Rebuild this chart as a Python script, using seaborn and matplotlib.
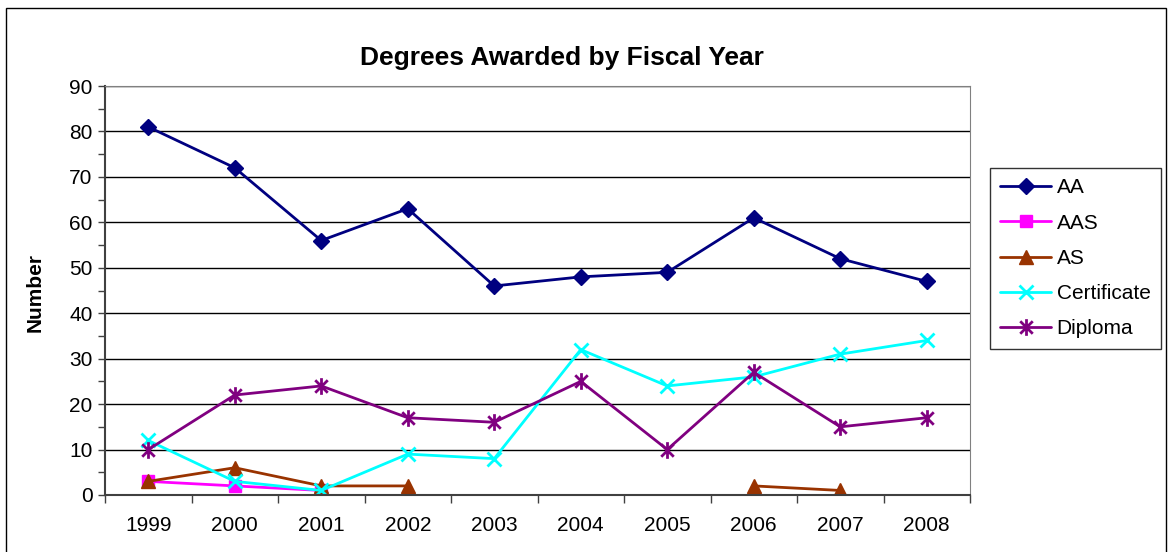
import numpy as np
import matplotlib
matplotlib.use("Agg")
import matplotlib.pyplot as plt
from matplotlib.path import Path
from matplotlib.lines import Line2D
from matplotlib.patches import Rectangle
import seaborn as sns

# Data
years = ["1999", "2000", "2001", "2002", "2003", "2004", "2005", "2006", "2007", "2008"]
aa = [81, 72, 56, 63, 46, 48, 49, 61, 52, 47]
aas = [3, 2, 1, np.nan, np.nan, np.nan, np.nan, np.nan, np.nan, np.nan]
as_ = [3, 6, 2, 2, np.nan, np.nan, np.nan, 2, 1, np.nan]
certificate = [12, 3, 1, 9, 8, 32, 24, 26, 31, 34]
diploma = [10, 22, 24, 17, 16, 25, 10, 27, 15, 17]

sns.set_style("white")
plt.rcParams["font.family"] = ["Liberation Sans", "DejaVu Sans"]
plt.rcParams["text.color"] = "black"
plt.rcParams["xtick.color"] = "black"
plt.rcParams["ytick.color"] = "black"
plt.rcParams["axes.labelcolor"] = "black"

# Excel-style star: vertical bar plus an X
star = Path([(0, -1), (0, 1), (-0.75, -0.75), (0.75, 0.75), (-0.75, 0.75), (0.75, -0.75)],
            [Path.MOVETO, Path.LINETO, Path.MOVETO, Path.LINETO, Path.MOVETO, Path.LINETO])

series = [
    ("AA", aa, "#000080", "D", 8),
    ("AAS", aas, "#FF00FF", "s", 9),
    ("AS", as_, "#993300", "^", 10),
    ("Certificate", certificate, "#00FFFF", "x", 10),
    ("Diploma", diploma, "#800080", star, 12),
]

fig = plt.figure(figsize=(11.73, 5.52), dpi=100)
ax = fig.add_axes([105 / 1173, 57 / 552, 865 / 1173, 409 / 552])

x_all = np.arange(len(years))
handles = []
for name, vals, col, mk, ms in series:
    vals = np.array(vals, dtype=float)
    mew = 2 if (mk == "x" or mk is star) else 1
    ok = ~np.isnan(vals)
    # split into contiguous runs so gaps stay gaps
    runs = np.split(x_all[ok], np.where(np.diff(x_all[ok]) != 1)[0] + 1)
    for r in runs:
        sns.lineplot(x=r, y=vals[r], ax=ax, color=col, marker=mk, markersize=ms,
                     markeredgecolor=col, markerfacecolor=col, markeredgewidth=mew,
                     linewidth=2, legend=False)
    handles.append(Line2D([], [], color=col, marker=mk, markersize=ms, linewidth=2,
                          markeredgecolor=col, markerfacecolor=col,
                          markeredgewidth=mew, label=name))

ax.set_xlim(-0.5, len(years) - 0.5)
ax.set_ylim(0, 90)
ax.set_xticks(x_all)
ax.set_xticklabels(years)
ax.set_xticks(np.arange(-0.5, len(years)), minor=True)
ax.set_yticks(np.arange(0, 91, 10))
ax.set_yticks(np.arange(0, 91, 5), minor=True)
ax.tick_params(axis="x", which="major", length=0, labelsize=15, pad=15)
ax.tick_params(axis="x", which="minor", length=6, width=1, color="#404040", direction="out", bottom=True)
ax.tick_params(axis="y", which="both", length=5, width=1, color="#404040", direction="out", left=True,
               labelsize=15, pad=4)
ax.yaxis.grid(True, which="major", color="black", linewidth=1)
ax.set_axisbelow(True)
for s in ["top", "right"]:
    ax.spines[s].set_color("#808080")
for s in ["left", "bottom"]:
    ax.spines[s].set_color("#404040")
    ax.spines[s].set_linewidth(1.5)

ax.set_xlabel("")
ax.set_ylabel("")
fig.text(35 / 1173, 1 - 292 / 552, "Number", rotation=90, ha="center", va="center",
         fontsize=15, fontweight="bold")
fig.text(562 / 1173, 1 - 58 / 552, "Degrees Awarded by Fiscal Year", ha="center", va="center",
         fontsize=19, fontweight="bold")

leg = ax.legend(handles=handles, loc="upper left", bbox_to_anchor=(990 / 1173, 1 - 168 / 552),
                bbox_transform=fig.transFigure, frameon=True, fancybox=False, fontsize=15,
                handlelength=2.45, borderpad=0.5, borderaxespad=0, labelspacing=0.78,
                handletextpad=0.25)
leg.get_frame().set_edgecolor("black")
leg.get_frame().set_linewidth(1)

fig.patches.append(Rectangle((6 / 1173, -0.05), 1160 / 1173, 1.05 - 8 / 552, transform=fig.transFigure,
                             fill=False, edgecolor="black", linewidth=1))

fig.savefig("out.png", dpi=100)
